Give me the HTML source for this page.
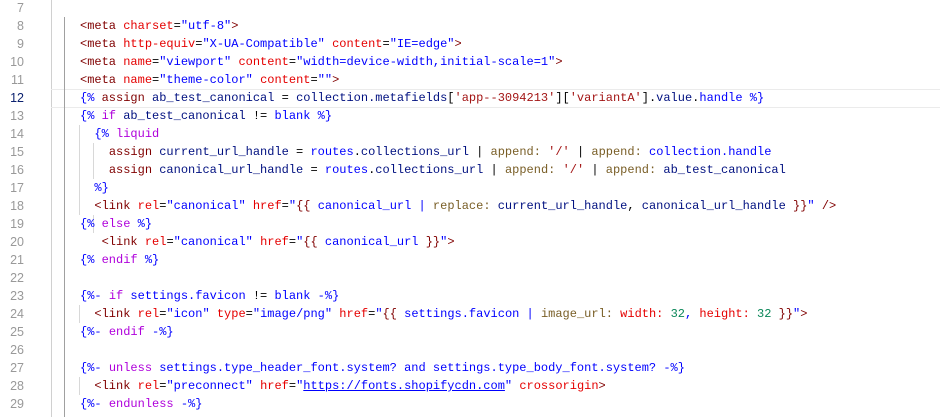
<!DOCTYPE html>
<html><head><meta charset="utf-8"><style>
html,body{margin:0;padding:0;background:#fff;width:940px;height:417px;overflow:hidden}
body{position:relative;font-family:"Liberation Mono",monospace;font-size:12px}
.ln{position:absolute;left:0;width:24px;text-align:right;color:#999;font-family:"Liberation Sans",sans-serif;font-size:12.5px;line-height:18px}
.c{position:absolute;left:80px;white-space:pre;line-height:18px;color:#000}
.g{position:absolute;width:1px;background:#d8d8d8}
.t{color:#800000}.a{color:#e50000}.s{color:#0000ff}.d{color:#0000ff}.k{color:#af00db}
.v{color:#001080}.o{color:#0000ff}.f{color:#795e26}.q{color:#a31515}.u{color:#0000ff;text-decoration:underline}
</style></head><body>
<div style="position:absolute;left:51px;top:0;width:1px;height:417px;background:#d0d0d0"></div>
<div style="position:absolute;left:51px;top:89px;width:889px;height:17px;border-top:1px solid #ebebeb;border-bottom:1px solid #ebebeb"></div>
<div class="g" style="left:64px;top:17px;height:400px;background:#a0a0a0"></div>
<div class="g" style="left:79px;top:125px;height:72px"></div>
<div class="g" style="left:93px;top:143px;height:36px"></div>
<div class="g" style="left:79px;top:197px;height:18px"></div>
<div class="g" style="left:93px;top:215px;height:18px"></div>
<div class="g" style="left:79px;top:305px;height:18px"></div>
<div class="g" style="left:79px;top:377px;height:18px"></div>

<div class="ln" style="top:-1px">7</div>
<div class="ln" style="top:17px">8</div>
<div class="ln" style="top:35px">9</div>
<div class="ln" style="top:53px">10</div>
<div class="ln" style="top:71px">11</div>
<div class="ln" style="top:89px;color:#0b216f">12</div>
<div class="ln" style="top:107px">13</div>
<div class="ln" style="top:125px">14</div>
<div class="ln" style="top:143px">15</div>
<div class="ln" style="top:161px">16</div>
<div class="ln" style="top:179px">17</div>
<div class="ln" style="top:197px">18</div>
<div class="ln" style="top:215px">19</div>
<div class="ln" style="top:233px">20</div>
<div class="ln" style="top:251px">21</div>
<div class="ln" style="top:269px">22</div>
<div class="ln" style="top:287px">23</div>
<div class="ln" style="top:305px">24</div>
<div class="ln" style="top:323px">25</div>
<div class="ln" style="top:341px">26</div>
<div class="ln" style="top:359px">27</div>
<div class="ln" style="top:377px">28</div>
<div class="ln" style="top:395px">29</div>

<div class="c" style="top:17px"><span class="t">&lt;meta</span> <span class="a">charset</span>=<span class="s">"utf-8"</span><span class="t">&gt;</span></div>
<div class="c" style="top:35px"><span class="t">&lt;meta</span> <span class="a">http-equiv</span>=<span class="s">"X-UA-Compatible"</span> <span class="a">content</span>=<span class="s">"IE=edge"</span><span class="t">&gt;</span></div>
<div class="c" style="top:53px"><span class="t">&lt;meta</span> <span class="a">name</span>=<span class="s">"viewport"</span> <span class="a">content</span>=<span class="s">"width=device-width,initial-scale=1"</span><span class="t">&gt;</span></div>
<div class="c" style="top:71px"><span class="t">&lt;meta</span> <span class="a">name</span>=<span class="s">"theme-color"</span> <span class="a">content</span>=<span class="s">""</span><span class="t">&gt;</span></div>
<div class="c" style="top:89px"><span class="d">{%</span> <span class="t">assign</span> <span class="v">ab_test_canonical</span> = <span class="v">collection.metafields</span>[<span class="q">'app--3094213'</span>][<span class="q">'variantA'</span>].<span class="v">value</span>.<span class="o">handle</span> <span class="d">%}</span></div>
<div class="c" style="top:107px"><span class="d">{%</span> <span class="k">if</span> <span class="v">ab_test_canonical</span> != <span class="o">blank</span> <span class="d">%}</span></div>
<div class="c" style="top:125px">  <span class="d">{%</span> <span class="k">liquid</span></div>
<div class="c" style="top:143px">    <span class="t">assign</span> <span class="v">current_url_handle</span> = <span class="o">routes</span>.<span class="v">collections_url</span> | <span class="f">append:</span> <span class="q">'/'</span> | <span class="f">append:</span> <span class="o">collection.handle</span></div>
<div class="c" style="top:161px">    <span class="t">assign</span> <span class="v">canonical_url_handle</span> = <span class="o">routes</span>.<span class="v">collections_url</span> | <span class="f">append:</span> <span class="q">'/'</span> | <span class="f">append:</span> <span class="v">ab_test_canonical</span></div>
<div class="c" style="top:179px">  <span class="d">%}</span></div>
<div class="c" style="top:197px">  <span class="t">&lt;link</span> <span class="a">rel</span>=<span class="s">"canonical"</span> <span class="a">href</span>=<span class="s">"</span><span class="t">{{</span> <span class="o">canonical_url</span> <span class="o">|</span> <span class="f">replace:</span> <span class="v">current_url_handle</span>, <span class="v">canonical_url_handle</span> <span class="t">}}</span><span class="s">"</span> <span class="t">/&gt;</span></div>
<div class="c" style="top:215px"><span class="d">{%</span> <span class="k">else</span> <span class="d">%}</span></div>
<div class="c" style="top:233px">   <span class="t">&lt;link</span> <span class="a">rel</span>=<span class="s">"canonical"</span> <span class="a">href</span>=<span class="s">"</span><span class="t">{{</span> <span class="o">canonical_url</span> <span class="t">}}</span><span class="s">"</span><span class="t">&gt;</span></div>
<div class="c" style="top:251px"><span class="d">{%</span> <span class="k">endif</span> <span class="d">%}</span></div>
<div class="c" style="top:287px"><span class="d">{%-</span> <span class="k">if</span> <span class="o">settings.favicon</span> != <span class="o">blank</span> <span class="d">-%}</span></div>
<div class="c" style="top:305px">  <span class="t">&lt;link</span> <span class="a">rel</span>=<span class="s">"icon"</span> <span class="a">type</span>=<span class="s">"image/png"</span> <span class="a">href</span>=<span class="s">"</span><span class="t">{{</span> <span class="o">settings.favicon</span> <span class="o">|</span> <span class="f">image_url:</span> <span class="a">width:</span> <span style="color:#098658">32</span><span class="o">,</span> <span class="a">height:</span> <span style="color:#098658">32</span> <span class="t">}}</span><span class="s">"</span><span class="t">&gt;</span></div>
<div class="c" style="top:323px"><span class="d">{%-</span> <span class="k">endif</span> <span class="d">-%}</span></div>
<div class="c" style="top:359px"><span class="d">{%-</span> <span class="k">unless</span> <span class="o">settings.type_header_font.system?</span> <span class="o">and</span> <span class="o">settings.type_body_font.system?</span> <span class="d">-%}</span></div>
<div class="c" style="top:377px">  <span class="t">&lt;link</span> <span class="a">rel</span>=<span class="s">"preconnect"</span> <span class="a">href</span>=<span class="s">"<span class="u">https://fonts.shopifycdn.com</span>"</span> <span class="a">crossorigin</span><span class="t">&gt;</span></div>
<div class="c" style="top:395px"><span class="d">{%-</span> <span class="k">endunless</span> <span class="d">-%}</span></div>
</body></html>
